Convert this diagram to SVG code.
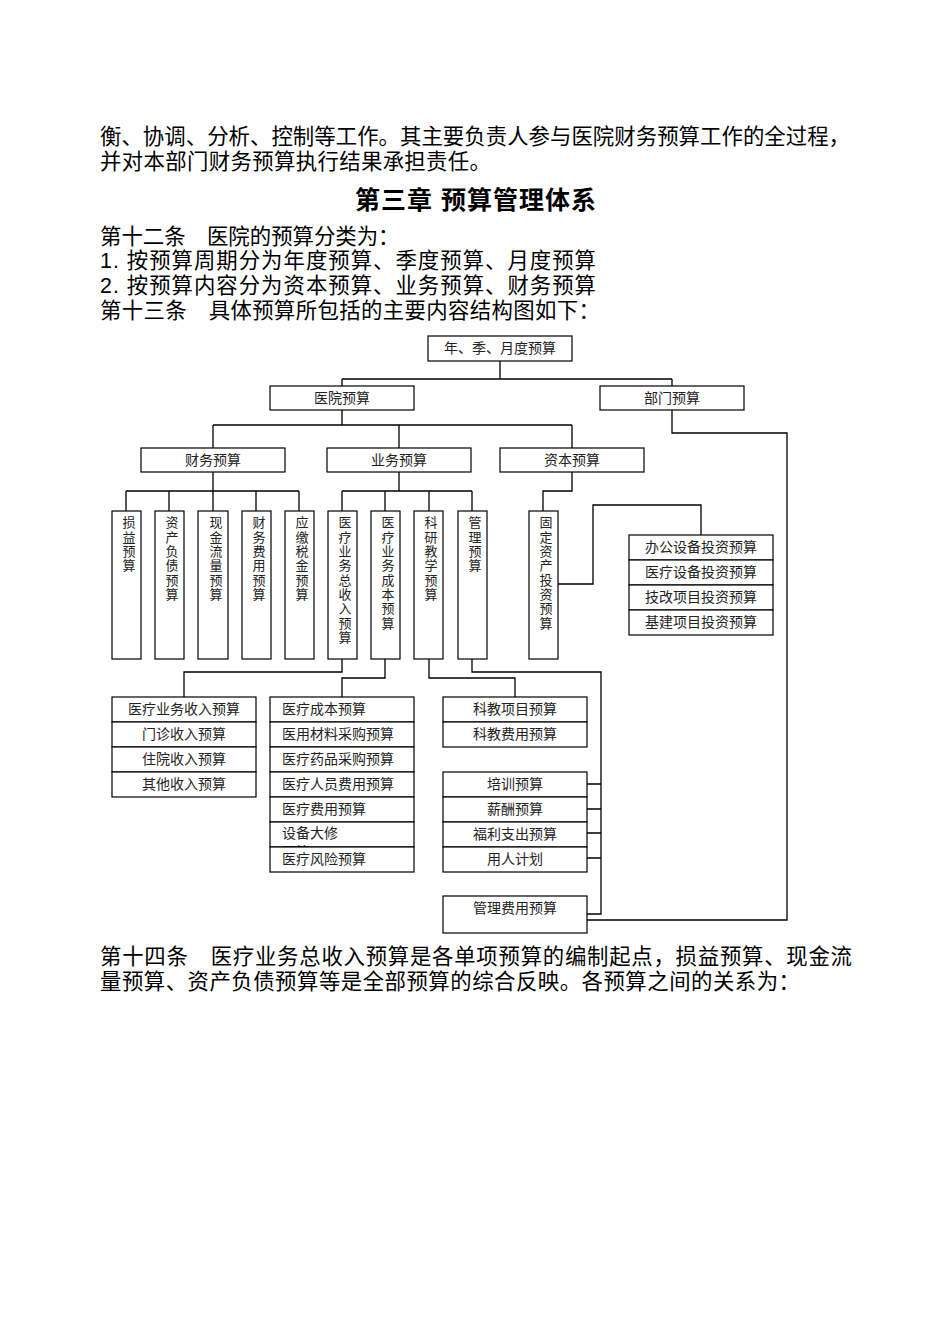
<svg xmlns="http://www.w3.org/2000/svg" width="950" height="1344" viewBox="0 0 950 1344">
<style>
.body{font-family:"Liberation Sans","Noto Sans CJK SC","Noto Sans CJK JP",sans-serif;font-size:21.4px;fill:#000}
.title{font-family:"Liberation Sans","Noto Sans CJK SC",sans-serif;font-size:25px;font-weight:bold;fill:#000}
.bx{fill:#fff;stroke:#000;stroke-width:1.2}
.t{font-family:"Noto Sans CJK SC",sans-serif;font-size:14px;fill:#222;text-anchor:middle}
.tl{font-family:"Noto Sans CJK SC",sans-serif;font-size:14px;fill:#222}
.v{font-family:"Noto Sans CJK SC",sans-serif;font-size:13px;fill:#222;writing-mode:vertical-rl;letter-spacing:1.3px}
.c{fill:none;stroke:#000;stroke-width:1.3}
</style>
<defs><clipPath id="cl"><rect x="270" y="822" width="144" height="25"/></clipPath></defs>
<rect width="950" height="1344" fill="#fff"/>
<g id="text">
<text class="body" x="100" y="144" textLength="750" lengthAdjust="spacing">衡、协调、分析、控制等工作。其主要负责人参与医院财务预算工作的全过程，</text>
<text class="body" x="100" y="169" textLength="391" lengthAdjust="spacing">并对本部门财务预算执行结果承担责任。</text>
<text class="title" x="355" y="209" textLength="241" lengthAdjust="spacing">第三章 预算管理体系</text>
<text class="body" x="100" y="244">第十二条　医院的预算分类为：</text>
<text class="body" x="100" y="268" textLength="496" lengthAdjust="spacing">1. 按预算周期分为年度预算、季度预算、月度预算</text>
<text class="body" x="100" y="293" textLength="496" lengthAdjust="spacing">2. 按预算内容分为资本预算、业务预算、财务预算</text>
<text class="body" x="100" y="318" textLength="500" lengthAdjust="spacing">第十三条　具体预算所包括的主要内容结构图如下：</text>
<text class="body" x="100" y="964" textLength="752" lengthAdjust="spacing">第十四条　医疗业务总收入预算是各单项预算的编制起点，损益预算、现金流</text>
<text class="body" x="100" y="989" textLength="700" lengthAdjust="spacing">量预算、资产负债预算等是全部预算的综合反映。各预算之间的关系为：</text>
</g>
<g id="connectors">
<path class="c" d="M500,361V379M342,379H672M342,379V386M672,379V386"/>
<path class="c" d="M672,410V433H787V920H587"/>
<path class="c" d="M342,410V425M213,425H572M213,425V448M399,425V448M572,425V448"/>
<path class="c" d="M213,472V491M126,491H299M126,491V511M169,491V511M213,491V511M256,491V511M299,491V511"/>
<path class="c" d="M399,472V491M342,491H472M342,491V511M385,491V511M429,491V511M472,491V511"/>
<path class="c" d="M572,472V491H543V511"/>
<path class="c" d="M558,584H593V505H701V535"/>
<path class="c" d="M342,659V672H184V697"/>
<path class="c" d="M385,659V678H342V697"/>
<path class="c" d="M429,659V678H515V697"/>
<path class="c" d="M472,659V672H601V914H587M587,784H601M587,809H601M587,833H601M587,858H601"/>
</g>
<g id="n-top"><rect class="bx" x="428" y="336" width="144" height="25"/><text class="t" x="500" y="353">年、季、月度预算</text></g>
<g id="n-hospital"><rect class="bx" x="270" y="386" width="144" height="24"/><text class="t" x="342" y="403">医院预算</text></g>
<g id="n-dept"><rect class="bx" x="600" y="386" width="144" height="24"/><text class="t" x="672" y="403">部门预算</text></g>
<g id="n-fin"><rect class="bx" x="141" y="448" width="144" height="24"/><text class="t" x="213" y="465">财务预算</text></g>
<g id="n-biz"><rect class="bx" x="327" y="448" width="144" height="24"/><text class="t" x="399" y="465">业务预算</text></g>
<g id="n-cap"><rect class="bx" x="500" y="448" width="144" height="24"/><text class="t" x="572" y="465">资本预算</text></g>
<g id="n-v1"><rect class="bx" x="112" y="511" width="29" height="148"/><text class="v" x="129" y="516">损益预算</text></g>
<g id="n-v2"><rect class="bx" x="155" y="511" width="29" height="148"/><text class="v" x="172" y="516">资产负债预算</text></g>
<g id="n-v3"><rect class="bx" x="198" y="511" width="30" height="148"/><text class="v" x="216" y="516">现金流量预算</text></g>
<g id="n-v4"><rect class="bx" x="242" y="511" width="29" height="148"/><text class="v" x="259" y="516">财务费用预算</text></g>
<g id="n-v5"><rect class="bx" x="285" y="511" width="29" height="148"/><text class="v" x="302" y="516">应缴税金预算</text></g>
<g id="n-v6"><rect class="bx" x="328" y="511" width="29" height="148"/><text class="v" x="345" y="516">医疗业务总收入预算</text></g>
<g id="n-v7"><rect class="bx" x="371" y="511" width="29" height="148"/><text class="v" x="388" y="516">医疗业务成本预算</text></g>
<g id="n-v8"><rect class="bx" x="414" y="511" width="29" height="148"/><text class="v" x="431" y="516">科研教学预算</text></g>
<g id="n-v9"><rect class="bx" x="458" y="511" width="29" height="148"/><text class="v" x="475" y="516">管理预算</text></g>
<g id="n-v10"><rect class="bx" x="529" y="511" width="29" height="148"/><text class="v" x="546" y="516">固定资产投资预算</text></g>
<g id="n-invest">
<rect class="bx" x="629" y="535" width="144" height="25"/><text class="t" x="701" y="552">办公设备投资预算</text>
<rect class="bx" x="629" y="560" width="144" height="25"/><text class="t" x="701" y="577">医疗设备投资预算</text>
<rect class="bx" x="629" y="585" width="144" height="25"/><text class="t" x="701" y="602">技改项目投资预算</text>
<rect class="bx" x="629" y="610" width="144" height="25"/><text class="t" x="701" y="627">基建项目投资预算</text>
</g>
<g id="n-income">
<rect class="bx" x="112" y="697" width="144" height="25"/><text class="t" x="184" y="714">医疗业务收入预算</text>
<rect class="bx" x="112" y="722" width="144" height="25"/><text class="t" x="184" y="739">门诊收入预算</text>
<rect class="bx" x="112" y="747" width="144" height="25"/><text class="t" x="184" y="764">住院收入预算</text>
<rect class="bx" x="112" y="772" width="144" height="25"/><text class="t" x="184" y="789">其他收入预算</text>
</g>
<g id="n-cost">
<rect class="bx" x="270" y="697" width="144" height="25"/><text class="tl" x="282" y="714">医疗成本预算</text>
<rect class="bx" x="270" y="722" width="144" height="25"/><text class="tl" x="282" y="739">医用材料采购预算</text>
<rect class="bx" x="270" y="747" width="144" height="25"/><text class="tl" x="282" y="764">医疗药品采购预算</text>
<rect class="bx" x="270" y="772" width="144" height="25"/><text class="tl" x="282" y="789">医疗人员费用预算</text>
<rect class="bx" x="270" y="797" width="144" height="25"/><text class="tl" x="282" y="814">医疗费用预算</text>
<rect class="bx" x="270" y="822" width="144" height="25"/><text class="tl" x="282" y="838" clip-path="url(#cl)">设备大修<tspan x="282" y="857">预算</tspan></text>
<rect class="bx" x="270" y="847" width="144" height="25"/><text class="tl" x="282" y="864">医疗风险预算</text>
</g>
<g id="n-edu">
<rect class="bx" x="443" y="697" width="144" height="25"/><text class="t" x="515" y="714">科教项目预算</text>
<rect class="bx" x="443" y="722" width="144" height="25"/><text class="t" x="515" y="739">科教费用预算</text>
</g>
<g id="n-hr">
<rect class="bx" x="443" y="772" width="144" height="25"/><text class="t" x="515" y="789">培训预算</text>
<rect class="bx" x="443" y="797" width="144" height="25"/><text class="t" x="515" y="814">薪酬预算</text>
<rect class="bx" x="443" y="822" width="144" height="25"/><text class="t" x="515" y="839">福利支出预算</text>
<rect class="bx" x="443" y="847" width="144" height="25"/><text class="t" x="515" y="864">用人计划</text>
</g>
<g id="n-mgmt"><rect class="bx" x="443" y="896" width="144" height="37"/><text class="t" x="515" y="913">管理费用预算</text></g>
</svg>
